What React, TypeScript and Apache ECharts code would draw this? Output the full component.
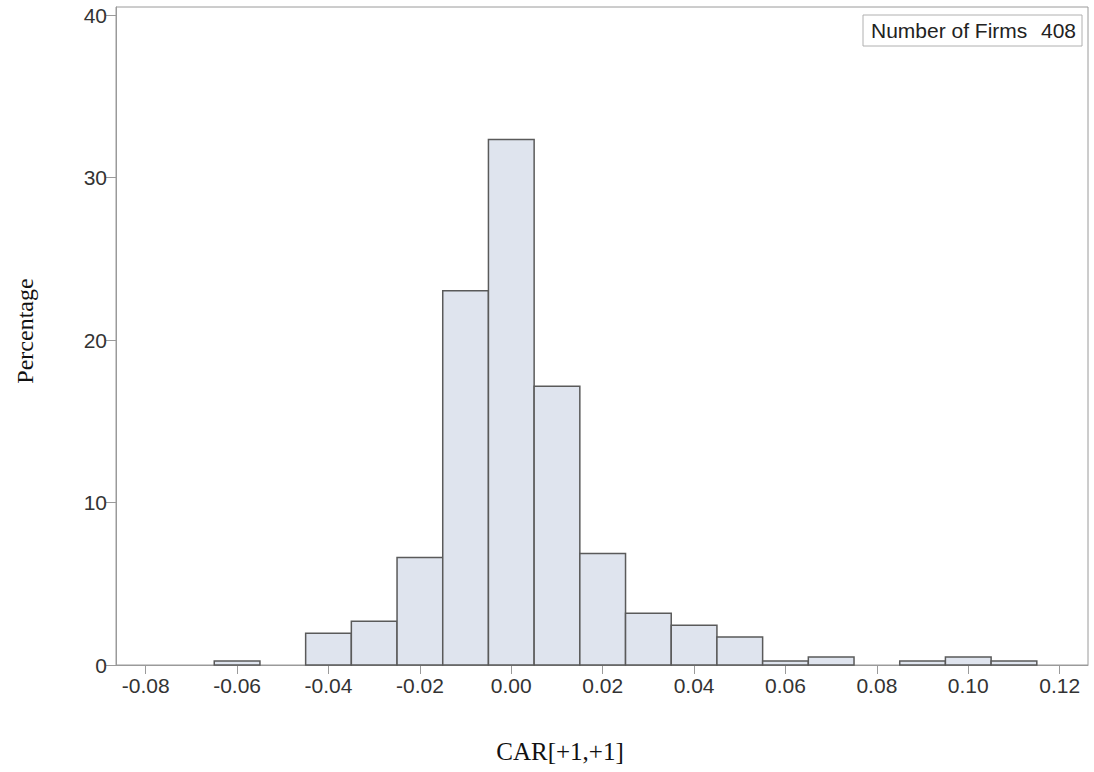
import React, { useEffect, useRef } from "react";
import * as echarts from "echarts";

const binCenters = [-0.06, -0.04, -0.03, -0.02, -0.01, 0.0, 0.01, 0.02, 0.03, 0.04, 0.05, 0.06, 0.07, 0.09, 0.1, 0.11];
const percents = [0.25, 1.96, 2.7, 6.62, 23.04, 32.35, 17.16, 6.86, 3.19, 2.45, 1.72, 0.25, 0.49, 0.25, 0.49, 0.25];
const binWidth = 0.01;
const xTicks = [-0.08, -0.06, -0.04, -0.02, 0.0, 0.02, 0.04, 0.06, 0.08, 0.1, 0.12];
const yTicks = [0, 10, 20, 30, 40];
const xTitle = "CAR[+1,+1]";
const yTitle = "Percentage";
const insetLabel = "Number of Firms";
const insetValue = "408";

export default function App() {
  const ref = useRef<HTMLDivElement>(null);
  useEffect(() => {
    if (!ref.current) return;
    const chart = echarts.init(ref.current, null, { renderer: "svg" });
    const sans = "'Liberation Sans', Arial, sans-serif";
    const serif = "'Liberation Serif', 'Times New Roman', serif";
    const axisGray = "#9a9a9a";
    chart.setOption({
      animation: false,
      backgroundColor: "#ffffff",
      grid: {
        left: 116,
        top: 7,
        right: 6,
        bottom: 107,
        show: true,
        borderColor: axisGray,
        borderWidth: 1,
        backgroundColor: "transparent",
      },
      xAxis: {
        type: "value",
        min: -0.0865,
        max: 0.1262,
        axisLine: { show: true, onZero: false, lineStyle: { color: axisGray, width: 1 } },
        axisTick: { show: true, length: 9, customValues: xTicks, lineStyle: { color: axisGray } },
        axisLabel: {
          customValues: xTicks,
          formatter: (v: number) => v.toFixed(2),
          fontFamily: sans,
          fontSize: 21,
          color: "#333",
          margin: 10,
        },
        splitLine: { show: false },
      },
      yAxis: {
        type: "value",
        min: 0,
        max: 40.5,
        axisLine: { show: true, onZero: false, lineStyle: { color: axisGray, width: 1 } },
        axisTick: { show: true, length: 10, customValues: yTicks, lineStyle: { color: axisGray } },
        axisLabel: {
          customValues: yTicks,
          fontFamily: sans,
          fontSize: 21,
          color: "#333",
          margin: 9,
        },
        splitLine: { show: false },
      },
      series: [
        {
          type: "custom",
          data: binCenters.map((c, i) => [c, percents[i]]),
          renderItem: (params: any, api: any) => {
            const c = api.value(0);
            const v = api.value(1);
            const p0 = api.coord([c - binWidth / 2, v]);
            const p1 = api.coord([c + binWidth / 2, 0]);
            return {
              type: "rect",
              shape: { x: p0[0], y: p0[1], width: p1[0] - p0[0], height: p1[1] - p0[1] },
              style: { fill: "#dfe4ee", stroke: "#5a5a5a", lineWidth: 1.5 },
            };
          },
        },
      ],
      graphic: [
        {
          type: "rect",
          shape: { x: 863, y: 15, width: 219, height: 31 },
          style: { fill: "#ffffff", stroke: "#b0b0b0", lineWidth: 1 },
          z: 10,
        },
        {
          type: "text",
          x: 871,
          y: 30.5,
          style: { text: insetLabel, fontFamily: sans, fontSize: 21, fill: "#222", textAlign: "left", textVerticalAlign: "middle" },
          z: 11,
        },
        {
          type: "text",
          x: 1076,
          y: 30.5,
          style: { text: insetValue, fontFamily: sans, fontSize: 21, fill: "#222", textAlign: "right", textVerticalAlign: "middle" },
          z: 11,
        },
        {
          type: "text",
          x: 560,
          y: 751,
          style: { text: xTitle, fontFamily: serif, fontSize: 25, fill: "#111", textAlign: "center", textVerticalAlign: "middle" },
        },
        {
          type: "text",
          x: 25,
          y: 331,
          rotation: Math.PI / 2,
          style: { text: yTitle, fontFamily: serif, fontSize: 24, fill: "#111", textAlign: "center", textVerticalAlign: "middle" },
        },
      ],
    });
    return () => chart.dispose();
  }, []);
  return <div ref={ref} style={{ position: "fixed", left: 0, top: 0, width: 1094, height: 772 }} />;
}
